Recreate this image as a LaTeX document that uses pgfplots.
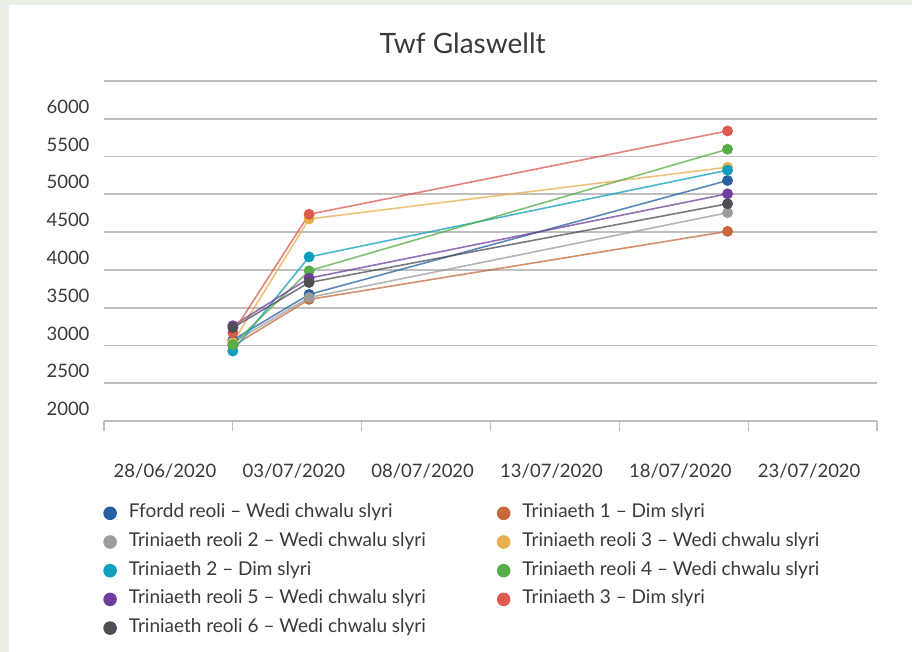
\documentclass[border=0pt]{standalone}
\usepackage{pgfplots}
\pgfplotsset{compat=1.18}
\usepackage{fontspec}
\setmainfont{Lato}
\definecolor{framegreen}{HTML}{E9F0E3}
\definecolor{gridgrey}{HTML}{BFBFBF}
\definecolor{txt}{HTML}{3A3A3A}
\definecolor{cblue}{HTML}{2461A2}
\definecolor{corange}{HTML}{C8693B}
\definecolor{cgrey}{HTML}{9C9C9C}
\definecolor{cyellow}{HTML}{E8AF4E}
\definecolor{cteal}{HTML}{0E9EBE}
\definecolor{cgreen}{HTML}{57AD47}
\definecolor{cpurple}{HTML}{6F3F9C}
\definecolor{cred}{HTML}{DD5A4F}
\definecolor{cdark}{HTML}{4C5054}
\begin{document}
\begin{tikzpicture}
\fill[framegreen] (-104bp,-231bp) rectangle (808bp,421bp);
\fill[white] (-95bp,-231bp) rectangle (808bp,416bp);
\begin{axis}[
  at={(0,0)}, anchor=south west,
  scale only axis, width=773bp, height=340bp,
  xmin=0, xmax=30, ymin=2000, ymax=6500,
  axis line style={draw=none},
  ymajorgrids, grid style={gridgrey, line width=1.8bp},
  ytick={2000,2500,...,6500},
  yticklabels={2000,2500,3000,3500,4000,4500,5000,5500,6000,{}},
  ytick style={draw=none},
  xtick={0,5,...,30},
  xticklabels={28/06/2020,03/07/2020,08/07/2020,13/07/2020,18/07/2020,23/07/2020,{}},
  xtick pos=bottom, tick align=outside, major tick length=10bp,
  xtick style={gridgrey, line width=1.2bp},
  tick label style={font=\fontsize{18.5bp}{21bp}\selectfont, text=txt},
  yticklabel style={anchor=east, xshift=-1bp, yshift=12bp},
  xticklabel style={anchor=center, xshift=61bp, yshift=-40bp},
  title={Twf Glaswellt},
  title style={at={(rel axis cs:0.464,1.092)}, anchor=center, font=\fontsize{28bp}{32bp}\selectfont, text=txt},
  clip=false,
  every axis plot/.append style={line width=1.6bp, mark=*, mark size=4.6bp, mark options={solid, draw opacity=1, fill opacity=1}},
  legend columns=2,
  legend cell align=left,
  legend image code/.code={\fill[#1, draw=none] (0bp,0bp) circle (6.8bp);},
  legend style={at={(rel axis cs:-0.005,-0.24)}, anchor=north west, draw=none, fill=none,
    font=\fontsize{19bp}{22bp}\selectfont, text=txt,
    nodes={inner sep=0bp, text height=13bp, text depth=4bp},
    row sep=11.7bp,
    /tikz/every even column/.append style={column sep=71bp},
    /tikz/every odd column/.append style={column sep=12bp}},
]
\addplot[color=cblue, draw opacity=0.75] coordinates {(5,3072) (7.96,3675) (24.2,5183)};
\addlegendentry{Ffordd reoli – Wedi chwalu slyri}
\addplot[color=corange, draw opacity=0.75] coordinates {(5,2993) (7.96,3609) (24.2,4510)};
\addlegendentry{Triniaeth 1 – Dim slyri}
\addplot[color=cgrey, draw opacity=0.75] coordinates {(5,3036) (7.96,3635) (24.2,4757)};
\addlegendentry{Triniaeth reoli 2 – Wedi chwalu slyri}
\addplot[color=cyellow, draw opacity=0.75] coordinates {(5,3040) (7.96,4674) (24.2,5359)};
\addlegendentry{Triniaeth reoli 3 – Wedi chwalu slyri}
\addplot[color=cteal, draw opacity=0.75] coordinates {(5,2926) (7.96,4172) (24.2,5320)};
\addlegendentry{Triniaeth 2 – Dim slyri}
\addplot[color=cgreen, draw opacity=0.75] coordinates {(5,3010) (7.96,3988) (24.2,5597)};
\addlegendentry{Triniaeth reoli 4 – Wedi chwalu slyri}
\addplot[color=cpurple, draw opacity=0.75] coordinates {(5,3261) (7.96,3890) (24.2,5007)};
\addlegendentry{Triniaeth reoli 5 – Wedi chwalu slyri}
\addplot[color=cred, draw opacity=0.75] coordinates {(5,3169) (7.96,4736) (24.2,5839)};
\addlegendentry{Triniaeth 3 – Dim slyri}
\addplot[color=cdark, draw opacity=0.75] coordinates {(5,3235) (7.96,3833) (24.2,4875)};
\addlegendentry{Triniaeth reoli 6 – Wedi chwalu slyri}
\end{axis}
\pgfresetboundingbox
\useasboundingbox (-104bp,-231bp) rectangle (808bp,421bp);
\end{tikzpicture}
\end{document}
